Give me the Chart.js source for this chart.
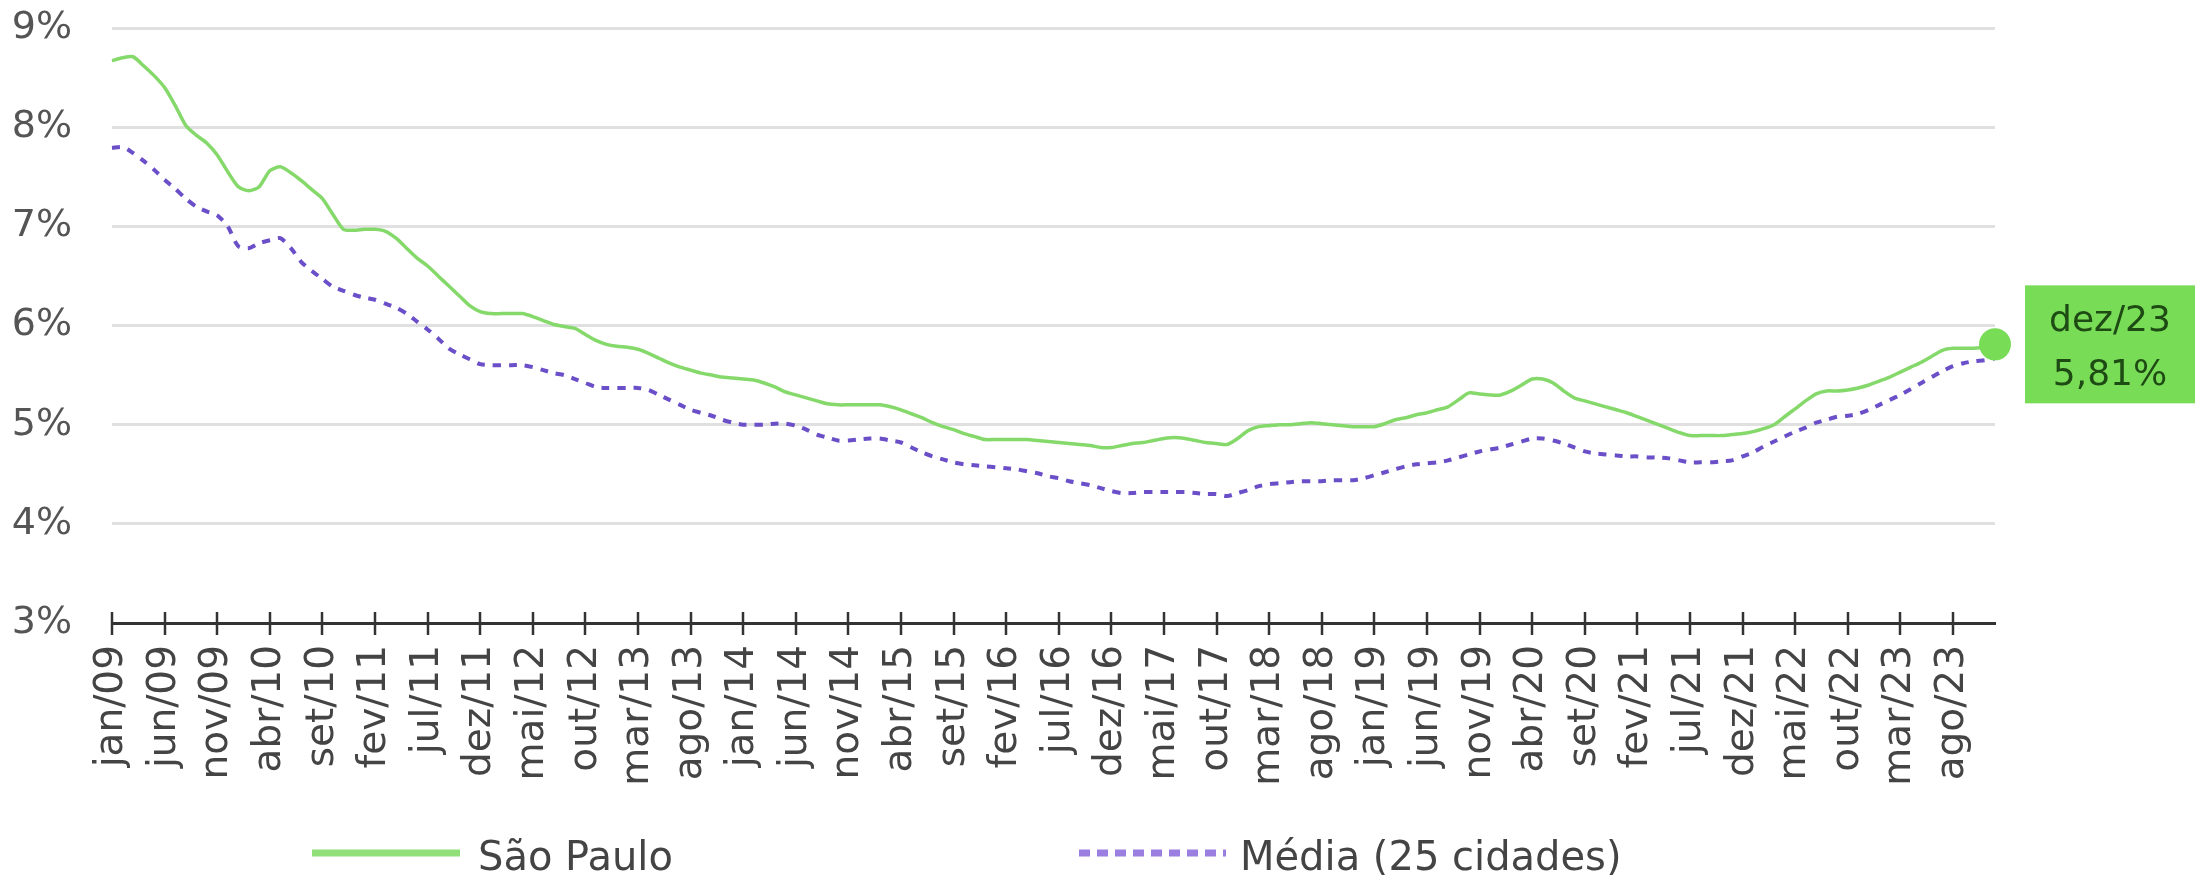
<!DOCTYPE html>
<html>
<head>
<meta charset="utf-8">
<script src="https://cdn.jsdelivr.net/npm/chart.js@4.4.0/dist/chart.umd.min.js"></script>
<style>
  html, body { margin: 0; padding: 0; background: #fff; }
  canvas { display: block; }
</style>
</head>
<body>
<canvas id="chart" width="2212" height="875"></canvas>
<script>
// month labels jan/09 ... dez/23
const monthNames = ['jan', 'fev', 'mar', 'abr', 'mai', 'jun', 'jul', 'ago', 'set', 'out', 'nov', 'dez'];
const years = ['09', '10', '11', '12', '13', '14', '15', '16', '17', '18', '19', '20', '21', '22', '23'];
const labels = [];
years.forEach(y => monthNames.forEach(m => labels.push(m + '/' + y)));

// yield (%), one value per month
const saoPaulo = [
  8.67, 8.70, 8.71, 8.62, 8.52, 8.40, 8.22, 8.02, 7.92, 7.84, 7.72, 7.55,
  7.40, 7.36, 7.40, 7.56, 7.60, 7.54, 7.46, 7.37, 7.28, 7.12, 6.97, 6.96,
  6.97, 6.97, 6.95, 6.88, 6.78, 6.68, 6.60, 6.50, 6.40, 6.30, 6.20, 6.14,
  6.12, 6.12, 6.12, 6.12, 6.09, 6.05, 6.01, 5.99, 5.97, 5.91, 5.85, 5.81,
  5.79, 5.78, 5.76, 5.72, 5.67, 5.62, 5.58, 5.55, 5.52, 5.50, 5.48, 5.47,
  5.46, 5.45, 5.42, 5.38, 5.33, 5.30, 5.27, 5.24, 5.21, 5.20, 5.20, 5.20,
  5.20, 5.20, 5.18, 5.15, 5.11, 5.07, 5.02, 4.98, 4.95, 4.91, 4.88, 4.85,
  4.85, 4.85, 4.85, 4.85, 4.84, 4.83, 4.82, 4.81, 4.80, 4.79, 4.77, 4.77,
  4.79, 4.81, 4.82, 4.84, 4.86, 4.87, 4.86, 4.84, 4.82, 4.81, 4.80, 4.86,
  4.94, 4.98, 4.99, 5.00, 5.00, 5.01, 5.02, 5.01, 5.00, 4.99, 4.98, 4.98,
  4.98, 5.01, 5.05, 5.07, 5.10, 5.12, 5.15, 5.18, 5.25, 5.32, 5.31, 5.30,
  5.30, 5.34, 5.40, 5.46, 5.46, 5.42, 5.34, 5.27, 5.24, 5.21, 5.18, 5.15,
  5.12, 5.08, 5.04, 5.00, 4.96, 4.92, 4.89, 4.89, 4.89, 4.89, 4.90, 4.91,
  4.93, 4.96, 5.00, 5.08, 5.16, 5.24, 5.31, 5.34, 5.34, 5.35, 5.37, 5.40,
  5.44, 5.48, 5.53, 5.58, 5.63, 5.69, 5.75, 5.77, 5.77, 5.77, 5.78, 5.81
];
const media25 = [
  7.79, 7.80, 7.74, 7.66, 7.57, 7.47, 7.38, 7.28, 7.20, 7.15, 7.11, 7.00,
  6.80, 6.78, 6.83, 6.86, 6.88, 6.78, 6.64, 6.55, 6.47, 6.39, 6.35, 6.31,
  6.28, 6.26, 6.22, 6.18, 6.12, 6.04, 5.96, 5.87, 5.77, 5.71, 5.66, 5.61,
  5.60, 5.60, 5.60, 5.60, 5.58, 5.55, 5.52, 5.50, 5.46, 5.42, 5.38, 5.37,
  5.37, 5.37, 5.37, 5.35, 5.30, 5.25, 5.20, 5.15, 5.12, 5.09, 5.05, 5.02,
  5.00, 5.00, 5.00, 5.01, 5.01, 4.99, 4.95, 4.90, 4.87, 4.84, 4.84, 4.85,
  4.86, 4.86, 4.84, 4.82, 4.77, 4.72, 4.68, 4.65, 4.62, 4.60, 4.59, 4.58,
  4.57, 4.56, 4.55, 4.53, 4.51, 4.48, 4.46, 4.43, 4.41, 4.39, 4.36, 4.33,
  4.31, 4.31, 4.32, 4.32, 4.32, 4.32, 4.32, 4.31, 4.30, 4.30, 4.28, 4.31,
  4.34, 4.38, 4.40, 4.41, 4.42, 4.43, 4.43, 4.43, 4.44, 4.44, 4.44, 4.46,
  4.49, 4.52, 4.55, 4.58, 4.60, 4.61, 4.62, 4.64, 4.67, 4.70, 4.73, 4.75,
  4.77, 4.80, 4.83, 4.86, 4.86, 4.84, 4.81, 4.77, 4.73, 4.71, 4.70, 4.69,
  4.68, 4.68, 4.67, 4.67, 4.66, 4.64, 4.62, 4.62, 4.62, 4.63, 4.64, 4.68,
  4.72, 4.78, 4.83, 4.88, 4.93, 4.97, 5.02, 5.05, 5.08, 5.09, 5.11, 5.15,
  5.20, 5.25, 5.30, 5.36, 5.42, 5.48, 5.54, 5.59, 5.62, 5.64, 5.65, 5.67
];
const yTicks = [3, 4, 5, 6, 7, 8, 9];
const tickEvery = 5;

const GREEN = '#85d96b';
const GREEN_BOX = '#79dc57';
const PURPLE = '#6a4fc8';
const FONT = 'DejaVu Sans';
const lastIdx = labels.length - 1;

Chart.defaults.font.family = FONT;

// tick marks crossing the x axis line, one per labelled month
const axisTicks = {
  id: 'axisTicks',
  afterDraw(chart) {
    const { ctx, scales: { x, y } } = chart;
    const y0 = y.getPixelForValue(yTicks[0]);
    ctx.save();
    ctx.strokeStyle = '#333';
    ctx.lineWidth = 2.5;
    for (let i = 0; i < labels.length; i += tickEvery) {
      const px = Math.round(x.getPixelForValue(i));
      ctx.beginPath();
      ctx.moveTo(px, y0 - 11);
      ctx.lineTo(px, y0 + 12);
      ctx.stroke();
    }
    ctx.restore();
  }
};

// green box with the last month and value
const endLabel = {
  id: 'endLabel',
  afterDraw(chart) {
    const { ctx, scales: { x, y } } = chart;
    const v = saoPaulo[lastIdx];
    const px = x.getPixelForValue(lastIdx);
    const py = y.getPixelForValue(v);
    const w = 170, h = 118;
    const bx = px + 30, by = py - h / 2;
    ctx.save();
    ctx.fillStyle = GREEN_BOX;
    ctx.fillRect(bx, by, w, h);
    ctx.fillStyle = '#1e4a14';
    ctx.font = '36px ' + FONT;
    ctx.textAlign = 'center';
    ctx.textBaseline = 'middle';
    ctx.fillText(labels[lastIdx], bx + w / 2, by + 36);
    ctx.fillText(v.toFixed(2).replace('.', ',') + '%', bx + w / 2, by + 90);
    ctx.restore();
  }
};

// legend row under the axis labels
const bottomLegend = {
  id: 'bottomLegend',
  afterDraw(chart) {
    const { ctx } = chart;
    const ly = 853;
    ctx.save();
    ctx.lineCap = 'butt';
    ctx.lineWidth = 7;
    ctx.strokeStyle = '#90df78';
    ctx.beginPath();
    ctx.moveTo(312, ly);
    ctx.lineTo(460, ly);
    ctx.stroke();

    ctx.strokeStyle = '#9a7fe0';
    ctx.setLineDash([11, 7]);
    ctx.beginPath();
    ctx.moveTo(1079, ly);
    ctx.lineTo(1226, ly);
    ctx.stroke();
    ctx.setLineDash([]);

    ctx.fillStyle = '#444';
    ctx.font = '40px ' + FONT;
    ctx.textBaseline = 'alphabetic';
    ctx.fillText(chart.data.datasets[0].label, 478, 870);
    ctx.fillText(chart.data.datasets[1].label, 1240, 870);
    ctx.restore();
  }
};

new Chart(document.getElementById('chart'), {
  type: 'line',
  data: {
    labels: labels,
    datasets: [
      {
        label: 'São Paulo',
        data: saoPaulo,
        borderColor: GREEN,
        borderWidth: 3.5,
        tension: 0.25,
        pointRadius: ctx => ctx.dataIndex === lastIdx ? 16 : 0,
        pointBackgroundColor: GREEN_BOX,
        pointBorderWidth: 0
      },
      {
        label: 'Média (25 cidades)',
        data: media25,
        borderColor: PURPLE,
        borderWidth: 4,
        borderDash: [8, 8],
        tension: 0.25,
        pointRadius: 0
      }
    ]
  },
  options: {
    responsive: false,
    devicePixelRatio: 1,
    animation: false,
    layout: { padding: { top: 28, right: 217, left: 0, bottom: 0 } },
    plugins: {
      legend: { display: false },
      tooltip: { enabled: false }
    },
    scales: {
      x: {
        grid: { drawOnChartArea: false, drawTicks: false },
        border: { color: '#333', width: 3 },
        afterFit: s => {
          s.height = 252;
          s.paddingLeft = 0; s.paddingRight = 0; s.paddingTop = 0; s.paddingBottom = 0;
        },
        ticks: {
          autoSkip: false,
          minRotation: 90,
          maxRotation: 90,
          padding: 22,
          color: '#444',
          font: { size: 39 },
          callback: (val, i) => i % tickEvery === 0 ? labels[i] : ''
        }
      },
      y: {
        min: yTicks[0],
        max: yTicks[yTicks.length - 1],
        afterFit: s => {
          s.width = 112;
          s.paddingLeft = 0; s.paddingRight = 0; s.paddingTop = 0; s.paddingBottom = 0;
        },
        afterBuildTicks: s => { s.ticks = yTicks.map(v => ({ value: v })); },
        grid: { color: '#e0e0e0', lineWidth: 3, drawTicks: false },
        border: { display: false },
        ticks: {
          padding: 40,
          color: '#555',
          font: { size: 38 },
          callback: v => v + '%'
        }
      }
    }
  },
  plugins: [axisTicks, endLabel, bottomLegend]
});
</script>
</body>
</html>
